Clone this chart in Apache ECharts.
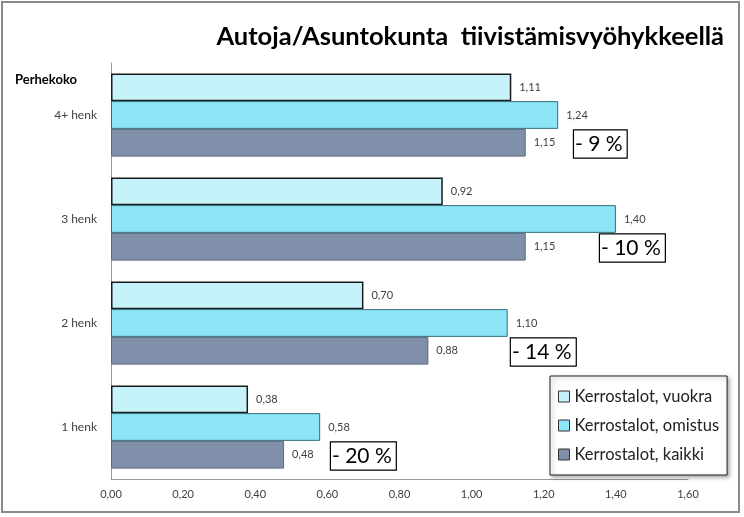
<!DOCTYPE html>
<html><head><meta charset="utf-8">
<script src="https://cdn.jsdelivr.net/npm/echarts@6/dist/echarts.min.js"></script>
<style>html,body{margin:0;padding:0;background:#fff}#c{width:744px;height:517px}</style>
</head><body><div id="c"></div>
<script>
const categories = ['4+ henk', '3 henk', '2 henk', '1 henk'];
const seriesNames = ['Kerrostalot, vuokra', 'Kerrostalot, omistus', 'Kerrostalot, kaikki'];
const vuokra = [1.11, 0.92, 0.70, 0.38];
const omistus = [1.24, 1.40, 1.10, 0.58];
const kaikki = [1.15, 1.15, 0.88, 0.48];
const changeLabels = ['- 9 %', '- 10 %', '- 14 %', '- 20 %'];
const changePos = [1.284, 1.356, 1.109, 0.610];
const xTicks = {min: 0, max: 1.6, interval: 0.2};

const FONT = 'Lato, "Open Sans", sans-serif';
const fmt = v => v.toFixed(2).replace('.', ',');

const colors = ['#C6F3FA', '#8CE6F8', '#7F8FA9'];
const borders = ['#1a1a1a', '#2f6f7a', '#5c6a7e'];

const chart = echarts.init(document.getElementById('c'));
const barSeries = [vuokra, omistus, kaikki].map((d, i) => ({
  name: seriesNames[i],
  type: 'bar',
  data: d,
  barGap: '0%',
  barCategoryGap: '20%',
  itemStyle: {color: colors[i], borderColor: borders[i], borderWidth: i === 0 ? 1.5 : 1},
  label: {show: true, position: 'right', distance: 8, formatter: p => fmt(p.value),
    fontFamily: FONT, fontSize: 11, color: '#404040'},
  silent: true
}));

chart.setOption({
  animation: false,
  textStyle: {fontFamily: FONT},
  title: {text: 'Autoja/Asuntokunta  tiivistämisvyöhykkeellä', right: 15, top: 19,
    textStyle: {fontFamily: FONT, fontSize: 25.5, fontWeight: 'bold', color: '#000'}},
  graphic: [
    {type: 'rect', shape: {x: 2, y: 2, width: 737, height: 510}, style: {fill: 'none', stroke: '#8a8a8a', lineWidth: 2}, z: -1},
    {type: 'text', left: 15, top: 73, style: {text: 'Perhekoko', font: 'bold 13px ' + FONT, fill: '#000'}}
  ],
  legend: {
    data: seriesNames, orient: 'vertical', left: 550, top: 376,
    icon: 'rect', itemWidth: 11, itemHeight: 11, itemGap: 12,
    padding: [12, 8, 12, 8],
    backgroundColor: '#fff', borderColor: '#222', borderWidth: 1,
    shadowBlur: 4, shadowColor: 'rgba(0,0,0,0.35)', shadowOffsetX: 2, shadowOffsetY: 2,
    textStyle: {fontFamily: FONT, fontSize: 16.5, color: '#222'},
    itemStyle: {borderWidth: 1, borderColor: '#333'}
  },
  grid: {left: 111, right: 56, top: 63, bottom: 38, containLabel: false},
  xAxis: {type: 'value', min: xTicks.min, max: xTicks.max, interval: xTicks.interval,
    axisLine: {show: true, lineStyle: {color: '#9a9a9a'}}, axisTick: {show: false},
    splitLine: {show: false},
    axisLabel: {formatter: v => fmt(v), fontFamily: FONT, fontSize: 11, color: '#404040', margin: 10}},
  yAxis: {type: 'category', data: categories, inverse: true,
    axisLine: {show: true, lineStyle: {color: '#9a9a9a'}}, axisTick: {show: false},
    axisLabel: {fontFamily: FONT, fontSize: 12, color: '#404040', margin: 14}},
  series: barSeries.concat([{
    type: 'scatter', symbolSize: 0, silent: true,
    itemStyle: {opacity: 1},
    data: changePos.map((v, i) => ({value: [v, categories[i]], name: changeLabels[i]})),
    label: {show: true, position: 'right', distance: 0, offset: [0, 29],
      formatter: p => p.name, fontFamily: FONT, fontSize: 21, color: '#000',
      backgroundColor: '#fff', borderColor: '#000', borderWidth: 1.2, padding: [4, 4, 2, 1]}
  }])
});
</script></body></html>
